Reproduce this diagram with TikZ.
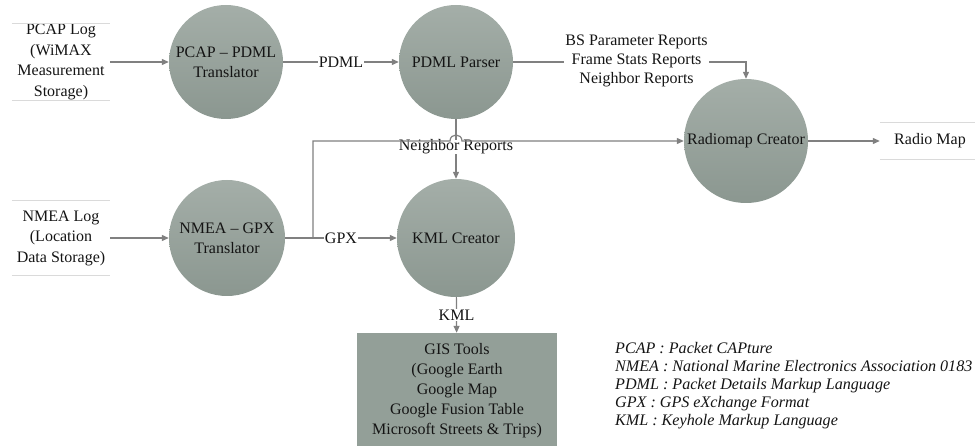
\documentclass[tikz,border=0pt]{standalone}
\usepackage{fontspec}
\setmainfont{Liberation Serif}
\usetikzlibrary{arrows.meta}
\definecolor{circtop}{HTML}{A4AEA8}
\definecolor{circbot}{HTML}{8B9790}
\definecolor{boxfill}{HTML}{939F98}
\definecolor{linegray}{HTML}{808080}
\definecolor{rulegray}{HTML}{DADADA}
\definecolor{txt}{HTML}{141414}
\begin{document}
\begin{tikzpicture}[x=1pt,y=-1pt,
  proc/.style={circle, minimum size=#1, inner sep=0pt, top color=circtop, bottom color=circbot, draw=none, align=center, font=\fontsize{16}{20}\selectfont, text=txt},
  proc/.default=114pt,
  conn/.style={draw=linegray, line width=1.2pt, -{Triangle[width=6pt,length=7pt]}},
  lbl/.style={fill=white, inner sep=1pt, align=center, font=\fontsize{16}{19}\selectfont, text=txt},
  store/.style={align=center, inner sep=0pt, font=\fontsize{16}{20.5}\selectfont, text=txt},
  rule/.style={draw=rulegray, line width=1pt}
]
\useasboundingbox (0,0) rectangle (975,446);

% stores
\node[store, minimum width=98pt, minimum height=77pt] (pcaplog) at (61,62) {PCAP Log\\(WiMAX\\Measurement\\Storage)};
\node[store, minimum width=98pt, minimum height=75pt] (nmealog) at (61,238) {NMEA Log\\(Location\\Data Storage)};
\node[store, minimum width=100pt, minimum height=37pt] (radio) at (930,141) {Radio Map};
\foreach \s in {pcaplog,nmealog,radio}{
  \draw[rule] (\s.north west) -- (\s.north east);
  \draw[rule] (\s.south west) -- (\s.south east);
}

% processes
\node[proc] (pcap) at (226,62) {PCAP -- PDML\\Translator};
\node[proc] (parser) at (456,62) {PDML Parser};
\node[proc=124pt] (radiomap) at (746,141) {Radiomap Creator};
\node[proc=116pt] (nmea) at (227,238) {NMEA -- GPX\\Translator};
\node[proc=118pt] (kml) at (456,238) {KML Creator};

% GIS box
\node[rectangle, fill=boxfill, minimum width=200pt, minimum height=115pt, inner sep=0pt, align=center,
  font=\fontsize{16}{20}\selectfont, text=txt] (gis) at (457,390.5)
  {GIS Tools\\(Google Earth\\Google Map\\Google Fusion Table\\Microsoft Streets \& Trips)};

% legend
\node[anchor=north west, align=left, inner sep=0pt, font=\fontsize{16.1}{18}\selectfont\itshape, text=txt] (legend) at (615,342)
  {PCAP : Packet CAPture\\
   NMEA : National Marine Electronics Association 0183\\
   PDML : Packet Details Markup Language\\
   GPX : GPS eXchange Format\\
   KML : Keyhole Markup Language};

% connectors
\draw[conn] (pcaplog) -- (pcap);
\draw[conn] (pcap) -- node[lbl] {PDML} (parser);
\draw[conn] (parser.east) -- node[lbl, pos=0.53, yshift=1pt] {BS Parameter Reports\\Frame Stats Reports\\Neighbor Reports} (radiomap.north |- parser.east) -- (radiomap.north);
\draw[conn] (parser) -- node[lbl, inner sep=0pt, yshift=2pt] {Neighbor Reports} (kml);
\draw[conn] (nmealog) -- (nmea);
\draw[conn] (nmea) -- node[lbl] {GPX} (kml);
\coordinate (br) at (313,238);
\coordinate (bend) at (313,141);
\coordinate (hopa) at (450,141);
\coordinate (hopb) at (462,141);
\draw[conn] (br) -- (bend) -- (hopa) .. controls ([yshift=8pt]hopa) and ([yshift=8pt]hopb) .. (hopb) -- (radiomap.west);
\draw[conn] (radiomap) -- (radio);
\draw[conn] (kml) -- node[lbl] {KML} (gis);
\end{tikzpicture}
\end{document}
